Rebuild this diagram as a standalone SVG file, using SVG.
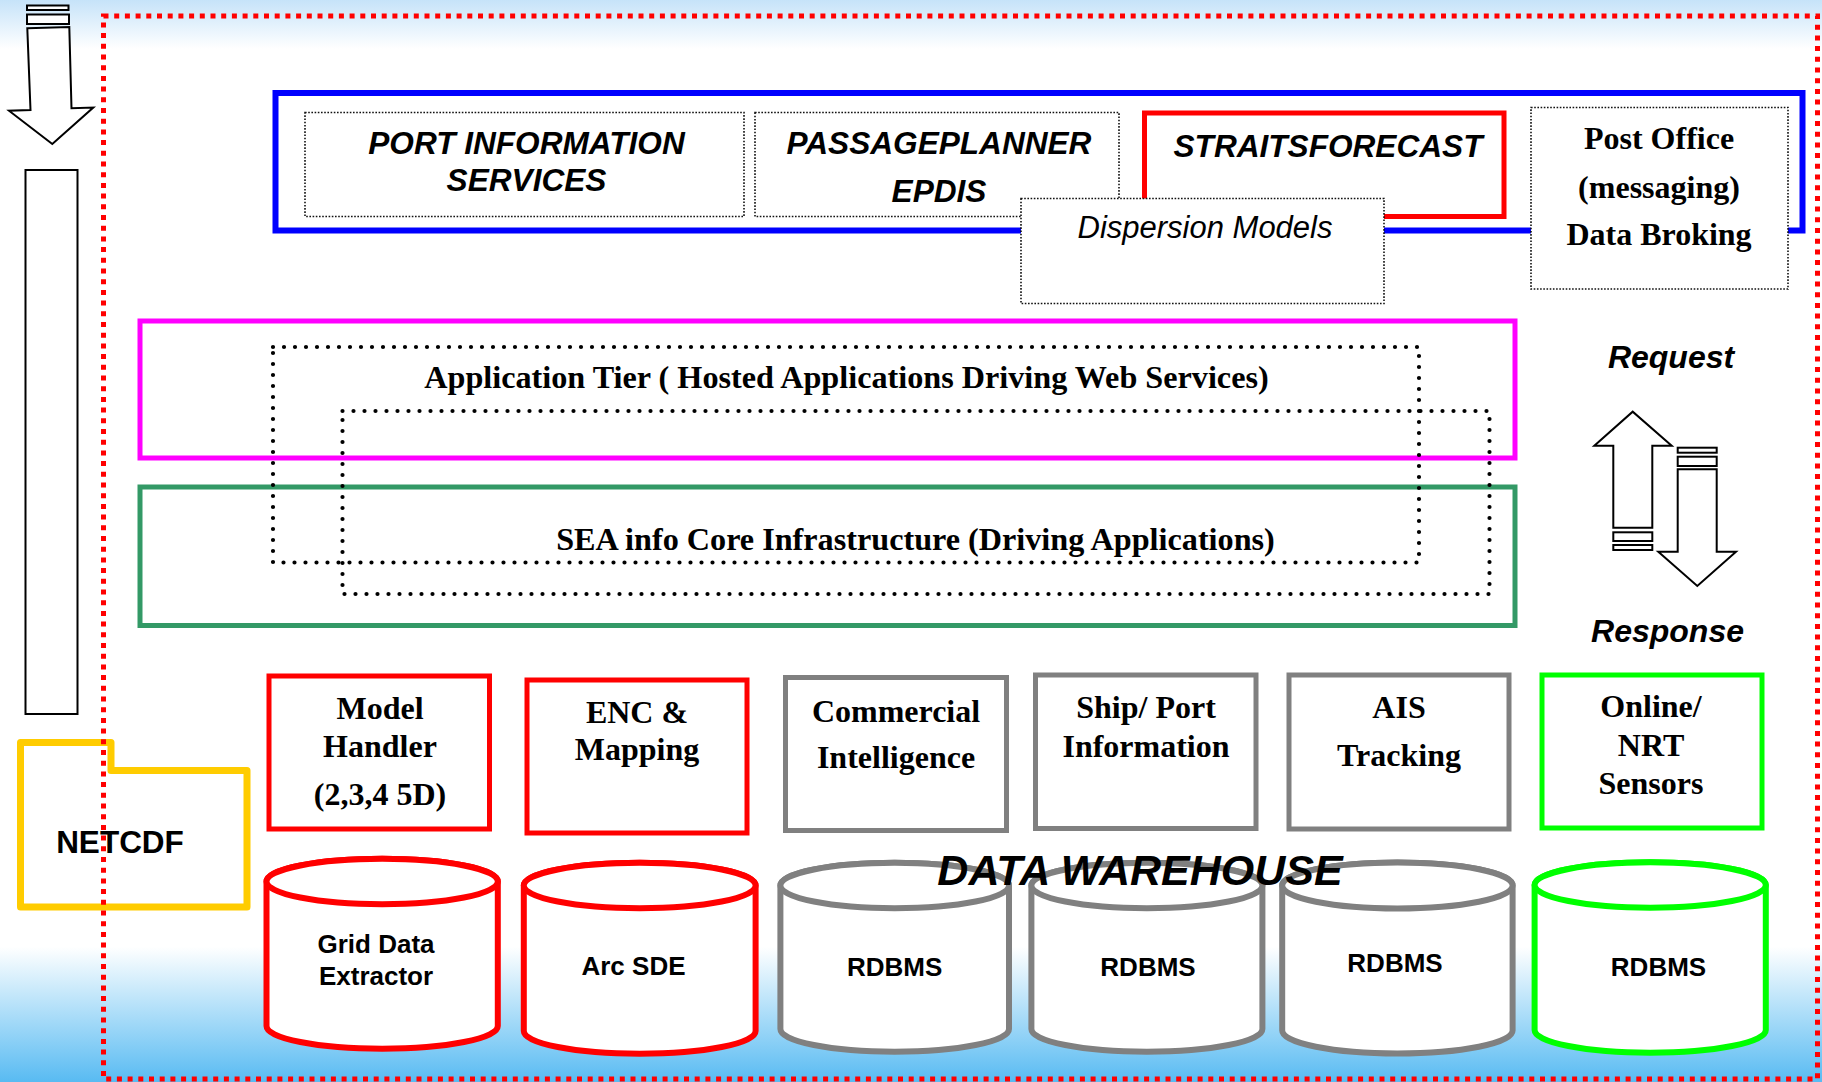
<svg xmlns="http://www.w3.org/2000/svg" width="1822" height="1082" viewBox="0 0 1822 1082">
<defs>
<linearGradient id="bg" x1="0" y1="0" x2="0" y2="1">
<stop offset="0" stop-color="#c6e3f9"/>
<stop offset="0.045" stop-color="#ffffff"/>
<stop offset="0.875" stop-color="#ffffff"/>
<stop offset="1" stop-color="#58bbf2"/>
</linearGradient>
</defs>
<style>
.bi{font-family:"Liberation Sans",Arial,sans-serif;font-weight:bold;font-style:italic;font-size:31.6px;fill:#000;text-anchor:middle}
.it{font-family:"Liberation Sans",Arial,sans-serif;font-style:italic;font-size:31px;fill:#000;text-anchor:middle}
.tb{font-family:"Liberation Serif","Times New Roman",serif;font-weight:bold;font-size:32px;fill:#000;text-anchor:middle}
.sb{font-family:"Liberation Sans",Arial,sans-serif;font-weight:bold;font-size:26px;fill:#000;text-anchor:middle}
.thin{fill:#fff;stroke:#111;stroke-width:1.6;stroke-dasharray:1.6 1.6}
.rdot{fill:none;stroke:#000;stroke-width:4.2;stroke-dasharray:0 11;stroke-linecap:round}
.arw{fill:#fff;stroke:#000;stroke-width:2}
.red{fill:#fff;stroke:#ff0000;stroke-width:5}
.gray{fill:#fff;stroke:#808080;stroke-width:5}
.grn{fill:#fff;stroke:#00ff00;stroke-width:5}
.cred{fill:#fff;stroke:#ff0000;stroke-width:6}
.cgray{fill:#fff;stroke:#808080;stroke-width:6}
.cgrn{fill:#fff;stroke:#00ff00;stroke-width:6}
</style>
<rect x="0" y="0" width="1822" height="1082" fill="url(#bg)"/>

<!-- top layer -->
<g id="services-frame">
<rect x="275.5" y="93" width="1527" height="137.5" fill="none" stroke="#0000ff" stroke-width="6"/>
</g>
<g id="port-information">
<rect class="thin" x="305" y="112.5" width="439" height="104"/>
<text class="bi" x="526.5" y="154">PORT INFORMATION</text>
<text class="bi" x="526.5" y="191">SERVICES</text>
</g>
<g id="passageplanner">
<rect class="thin" x="755" y="112.5" width="364" height="104"/>
<text class="bi" x="939" y="154">PASSAGEPLANNER</text>
<text class="bi" x="939" y="201.5">EPDIS</text>
</g>
<g id="straitsforecast">
<rect x="1144.5" y="113" width="359.5" height="103.5" fill="#fff" stroke="#ff0000" stroke-width="5"/>
<text class="bi" x="1328" y="156.5">STRAITSFORECAST</text>
</g>
<g id="dispersion-models">
<rect class="thin" x="1021" y="198.5" width="363" height="105"/>
<text class="it" x="1205" y="238">Dispersion Models</text>
</g>
<g id="post-office">
<rect class="thin" x="1531" y="107.5" width="257" height="181.5"/>
<text class="tb" x="1659" y="149">Post Office</text>
<text class="tb" x="1659" y="198">(messaging)</text>
<text class="tb" x="1659" y="245">Data Broking</text>
</g>

<!-- middle tiers -->
<g id="application-tier">
<rect x="140" y="321" width="1375" height="137" fill="none" stroke="#ff00ff" stroke-width="5"/>
</g>
<g id="core-infrastructure">
<rect x="140" y="487" width="1375" height="138.5" fill="none" stroke="#339966" stroke-width="5"/>
</g>
<g id="hosted-applications">
<rect class="rdot" x="273" y="347" width="1146" height="215.5"/>
<text class="tb" style="font-size:32.2px" x="846.5" y="388">Application Tier ( Hosted Applications Driving Web Services)</text>
</g>
<g id="driving-applications">
<rect class="rdot" x="342.5" y="411" width="1147" height="183"/>
<text class="tb" style="font-size:32.2px" x="915.5" y="550">SEA info Core Infrastructure (Driving Applications)</text>
</g>

<g id="request-label"><text class="bi" style="font-size:32px" x="1671" y="368">Request</text></g>
<g id="response-label"><text class="bi" style="font-size:32px" x="1667.5" y="641.5">Response</text></g>

<!-- bottom boxes -->
<g id="model-handler">
<rect class="red" x="269" y="676" width="220.5" height="153"/>
<text class="tb" x="380" y="719">Model</text>
<text class="tb" x="380" y="757">Handler</text>
<text class="tb" x="380" y="805">(2,3,4 5D)</text>
</g>
<g id="enc-mapping">
<rect class="red" x="527" y="680" width="220" height="153"/>
<text class="tb" x="637" y="722.5">ENC &amp;</text>
<text class="tb" x="637" y="760">Mapping</text>
</g>
<g id="commercial-intelligence">
<rect class="gray" x="785.5" y="677.5" width="221" height="153"/>
<text class="tb" x="896" y="721.5">Commercial</text>
<text class="tb" x="896" y="768">Intelligence</text>
</g>
<g id="ship-port">
<rect class="gray" x="1035.5" y="675" width="220.5" height="153.5"/>
<text class="tb" x="1146" y="718">Ship/ Port</text>
<text class="tb" x="1146" y="756.5">Information</text>
</g>
<g id="ais-tracking">
<rect class="gray" x="1289" y="675" width="220" height="154"/>
<text class="tb" x="1399" y="718">AIS</text>
<text class="tb" x="1399" y="766">Tracking</text>
</g>
<g id="online-sensors">
<rect class="grn" x="1542" y="675" width="220" height="153"/>
<text class="tb" x="1651" y="717">Online/</text>
<text class="tb" x="1651" y="756">NRT</text>
<text class="tb" x="1651" y="794">Sensors</text>
</g>

<!-- cylinders -->
<g id="grid-data-extractor">
<path class="cred" d="M266.5,881.5 V1026 A115.65,22.7 0 0 0 497.8,1026 V881.5 A115.65,22.7 0 0 0 266.5,881.5 Z"/>
<ellipse class="cred" cx="382.15" cy="881.5" rx="115.65" ry="22.7"/>
<text class="sb" x="376" y="953">Grid Data</text>
<text class="sb" x="376" y="985">Extractor</text>
</g>
<g id="arc-sde">
<path class="cred" d="M523.8,885.5 V1031 A115.9,22.7 0 0 0 755.6,1031 V885.5 A115.9,22.7 0 0 0 523.8,885.5 Z"/>
<ellipse class="cred" cx="639.7" cy="885.5" rx="115.9" ry="22.7"/>
<text class="sb" x="633.5" y="975">Arc SDE</text>
</g>
<g id="rdbms-commercial">
<path class="cgray" d="M780.4,885.5 V1029 A114.3,22.7 0 0 0 1009,1029 V885.5 A114.3,22.7 0 0 0 780.4,885.5 Z"/>
<ellipse class="cgray" cx="894.7" cy="885.5" rx="114.3" ry="22.7"/>
<text class="sb" x="894.7" y="975.5">RDBMS</text>
</g>
<g id="rdbms-ship">
<path class="cgray" d="M1031.4,885.5 V1029 A115.5,22.7 0 0 0 1262.4,1029 V885.5 A115.5,22.7 0 0 0 1031.4,885.5 Z"/>
<ellipse class="cgray" cx="1146.9" cy="885.5" rx="115.5" ry="22.7"/>
<text class="sb" x="1148" y="975.5">RDBMS</text>
</g>
<g id="rdbms-ais">
<path class="cgray" d="M1282.2,885.5 V1030.5 A115.2,23 0 0 0 1512.6,1030.5 V885.5 A115.2,23 0 0 0 1282.2,885.5 Z"/>
<ellipse class="cgray" cx="1397.4" cy="885.5" rx="115.2" ry="23"/>
<text class="sb" x="1395" y="971.5">RDBMS</text>
</g>
<g id="rdbms-sensors">
<path class="cgrn" d="M1534.6,885 V1030 A115.6,22.7 0 0 0 1765.8,1030 V885 A115.6,22.7 0 0 0 1534.6,885 Z"/>
<ellipse class="cgrn" cx="1650.2" cy="885" rx="115.6" ry="22.7"/>
<text class="sb" x="1658.5" y="976">RDBMS</text>
</g>
<g id="data-warehouse">
<text class="bi" style="font-size:43px" x="1140" y="885">DATA WAREHOUSE</text>
</g>

<!-- left column -->
<g id="netcdf">
<path d="M20.5,742.5 H111 V770.5 H247 V907 H20.5 Z" fill="#fff" stroke="#ffcc00" stroke-width="7" stroke-linejoin="round"/>
<text class="sb" style="font-size:31.5px" x="120" y="853">NETCDF</text>
</g>
<g id="data-flow-bar">
<rect x="25.5" y="170" width="52" height="544" fill="#fff" stroke="#000" stroke-width="2"/>
</g>

<g id="connectors">
<rect class="arw" x="27" y="5.5" width="41.5" height="4.5"/>
<rect class="arw" x="27" y="14.5" width="42" height="9.5"/>
<polygon class="arw" points="27.3,28.3 69.3,27 71.5,108.3 93.3,107.5 52.3,144 9,110.7 30.5,110"/>
<polygon class="arw" points="1613.3,527.7 1613.3,445.7 1594.3,445.7 1632.7,411.7 1671.7,445.7 1652.3,445.7 1652.3,527.7"/>
<rect class="arw" x="1613.3" y="532.3" width="39" height="8.7"/>
<rect class="arw" x="1613.3" y="545" width="39" height="5"/>
<rect class="arw" x="1677.7" y="447.7" width="39" height="5"/>
<rect class="arw" x="1677.7" y="456.7" width="39" height="9.3"/>
<polygon class="arw" points="1677.7,469.3 1716.7,469.3 1716.7,551.7 1736,551.7 1697.3,586 1658.3,551.7 1677.7,551.7"/>
</g>

<g id="system-boundary">
<rect x="103.5" y="16" width="1714" height="1063" fill="none" stroke="#ff0000" stroke-width="5" stroke-dasharray="5 5.7"/>
</g>
</svg>
